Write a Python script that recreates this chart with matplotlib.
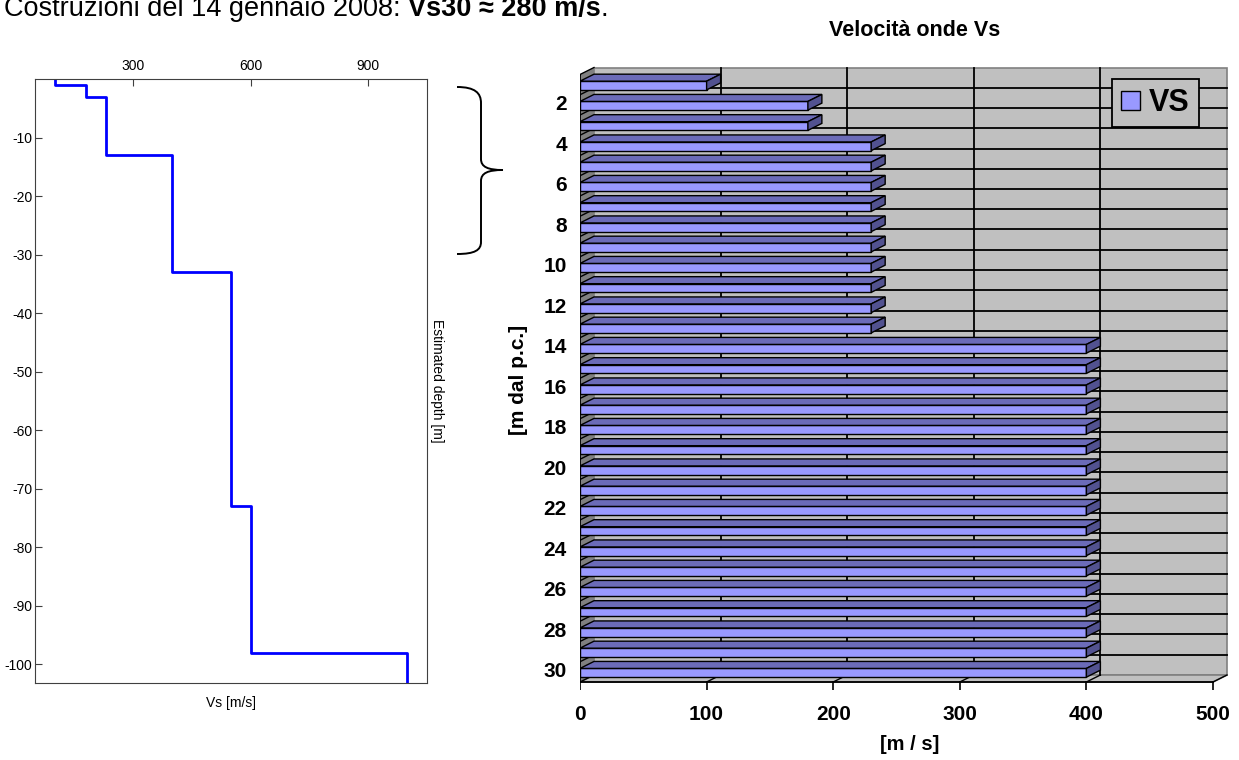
import numpy as np
import matplotlib.pyplot as plt
from matplotlib.patches import Polygon, Patch, PathPatch
from matplotlib.path import Path

plt.rcParams['axes.unicode_minus'] = False
plt.rcParams['font.family'] = ['Liberation Sans', 'DejaVu Sans']

# profilo Vs stimato (grafico a sinistra)
layer_top = [0, 1, 3, 13, 33, 73, 98]
layer_bottom = [1, 3, 13, 33, 73, 98, 110]
layer_vs = [100, 180, 230, 400, 550, 600, 1000]

# istogramma 3D "Velocità onde Vs" (grafico a destra)
depth_cat = list(range(1, 31))
vs_bars = [100, 180, 180] + [230] * 10 + [400] * 17
x_ticks = [0, 100, 200, 300, 400, 500]
cat_labels = [2, 4, 6, 8, 10, 12, 14, 16, 18, 20, 22, 24, 26, 28, 30]

W, H = 1239, 760
fig = plt.figure(figsize=(W / 100, H / 100), dpi=100)


def box(x0, y0, x1, y1):
    # rettangolo in pixel (y verso il basso) -> frazioni della figura
    return [x0 / W, 1 - y1 / H, (x1 - x0) / W, (y1 - y0) / H]


def fpt(x, y):
    return (x / W, 1 - y / H)


# ---------------- grafico a sinistra ----------------
ax1 = fig.add_axes(box(35, 79, 427, 683))
xs = np.repeat(layer_vs, 2)
ys = -np.ravel(np.column_stack([layer_top, layer_bottom]))
ax1.plot(xs, ys, color='#0000FF', lw=2)
ax1.set_xlim(48.6, 1051)
ax1.set_ylim(-103.2, 0)
ax1.xaxis.tick_top()
ax1.set_xticks([300, 600, 900])
ax1.set_yticks(list(range(-100, 0, 10)))
ax1.tick_params(direction='in', length=5, color='#404040', labelsize=10)
ax1.tick_params(axis='x', pad=4)
ax1.tick_params(axis='y', pad=2)
for s in ax1.spines.values():
    s.set_color('#404040')
ax1.set_xlabel('Vs [m/s]', fontsize=10, labelpad=9)
ax1.xaxis.set_label_position('bottom')
ax1.set_ylabel('Estimated depth [m]', fontsize=10, rotation=270, labelpad=12)
ax1.yaxis.set_label_position('right')

# parentesi graffa
brace = [(457, 87), (475, 87), (481, 93), (481, 103), (481, 159),
         (481, 167), (488, 170), (503, 170),
         (488, 170), (481, 173), (481, 181), (481, 242),
         (481, 250), (475, 254), (457, 254)]
codes = [Path.MOVETO, Path.CURVE4, Path.CURVE4, Path.CURVE4, Path.LINETO,
         Path.CURVE4, Path.CURVE4, Path.CURVE4,
         Path.CURVE4, Path.CURVE4, Path.CURVE4, Path.LINETO,
         Path.CURVE4, Path.CURVE4, Path.CURVE4]
fig.add_artist(PathPatch(Path([fpt(*p) for p in brace], codes), fc='none',
                         ec='black', lw=1.4, transform=fig.transFigure))

# ---------------- grafico a destra (finto 3D) ----------------
SX = 1.266   # pixel per m/s
SY = 20.25   # pixel per strato
X0, Y0 = 580, 74.5   # origine frontale (valore 0, bordo superiore strato 1)
ax_px = (580, 60, 1232, 690)
ax2 = fig.add_axes(box(*ax_px))
ax2.set_xlim((ax_px[0] - X0) / SX, (ax_px[2] - X0) / SX)
ax2.set_ylim(0.5 + (ax_px[3] - Y0) / SY, 0.5 + (ax_px[1] - Y0) / SY)
ax2.axis('off')

DX = 14 / SX
DY = 7 / SY
xmax = x_ticks[-1]
top, bot = 0.5, 30.5
bounds = np.arange(top, bot + 1, 1.0)

ax2.add_patch(Polygon([(DX, top - DY), (xmax + DX, top - DY), (xmax + DX, bot - DY), (DX, bot - DY)],
                      fc='#C0C0C0', ec='#808080', lw=1.2, zorder=1))
ax2.add_patch(Polygon([(0, top), (DX, top - DY), (DX, bot - DY), (0, bot)],
                      fc='#808080', ec='none', zorder=1))
ax2.add_patch(Polygon([(0, bot), (xmax, bot), (xmax + DX, bot - DY), (DX, bot - DY)],
                      fc='#C0C0C0', ec='#808080', lw=1.2, zorder=1.5))
for b in bounds[1:-1]:
    ax2.plot([DX, xmax + DX], [b - DY, b - DY], color='black', lw=1.3, zorder=2)
for b in bounds:
    ax2.plot([0, DX], [b, b - DY], color='black', lw=1, zorder=2)
for x in x_ticks[1:-1]:
    ax2.plot([x + DX, x + DX], [top - DY, bot - DY], color='black', lw=1.3, zorder=2)
for x in x_ticks[1:]:
    ax2.plot([x, x + DX], [bot, bot - DY], color='black', lw=1, zorder=2)

# barre
ft, fb = 0.17, 0.26
ax2.barh(np.array(depth_cat) - ft, vs_bars, height=ft + fb, align='edge',
         color='#9999FF', edgecolor='black', lw=1, zorder=3, label='VS')
for k, v in zip(depth_cat, vs_bars):
    yt, yb = k - ft, k + fb
    ax2.add_patch(Polygon([(0, yt), (v, yt), (v + DX, yt - DY), (DX, yt - DY)],
                          fc='#6B6BB8', ec='black', lw=1, zorder=3))
    ax2.add_patch(Polygon([(v, yt), (v, yb), (v + DX, yb - DY), (v + DX, yt - DY)],
                          fc='#525290', ec='black', lw=1, zorder=3))

# assi frontali
ax2.plot([0, 0], [top, bot], color='black', lw=1.3, zorder=4)
ax2.plot([0, xmax], [bot, bot], color='black', lw=1.3, zorder=4)
for b in bounds:
    ax2.plot([-10 / SX, 0], [b, b], color='black', lw=1.2, zorder=4)
for x in x_ticks:
    ax2.plot([x, x], [bot, bot + 10 / SY], color='black', lw=1.2, zorder=4)
    ax2.text(x, bot + 33 / SY, str(x), ha='center', va='center',
             fontsize=15, fontweight='bold')
for k in cat_labels:
    ax2.text(-13 / SX, k, str(k), ha='right', va='center',
             fontsize=15, fontweight='bold')

leg = ax2.legend(loc='upper left', bbox_to_anchor=fpt(1112, 79),
                 bbox_transform=fig.transFigure, borderaxespad=0,
                 handles=[Patch(facecolor='#9999FF', edgecolor='black', label='VS')],
                 prop={'weight': 'bold', 'size': 22}, handlelength=0.6,
                 handleheight=0.6, handletextpad=0.3, borderpad=0.3,
                 fancybox=False, framealpha=1, facecolor='#C0C0C0', edgecolor='black')
leg.get_frame().set_linewidth(1.3)

fig.text(*fpt(915, 30), 'Velocità onde Vs', ha='center', va='center',
         fontsize=15.5, fontweight='bold')
fig.text(*fpt(910, 745), '[m / s]', ha='center', va='center',
         fontsize=14.5, fontweight='bold')
fig.text(*fpt(518, 380), '[m dal p.c.]', ha='center', va='center',
         rotation=90, fontsize=15, fontweight='bold')

# testo in alto (tagliato come nell'originale)
r = fig.canvas.get_renderer()
t1 = fig.text(*fpt(4, 16), 'Costruzioni del 14 gennaio 2008: ', fontsize=19.5, va='baseline')
x1 = t1.get_window_extent(r).x1
t2 = fig.text(x1 / W, 1 - 16 / H, 'Vs30 ≈ 280 m/s', fontsize=19.5,
              fontweight='bold', va='baseline')
x2 = t2.get_window_extent(r).x1
fig.text(x2 / W, 1 - 16 / H, '.', fontsize=19.5, va='baseline')

fig.savefig('out.png', dpi=100)
